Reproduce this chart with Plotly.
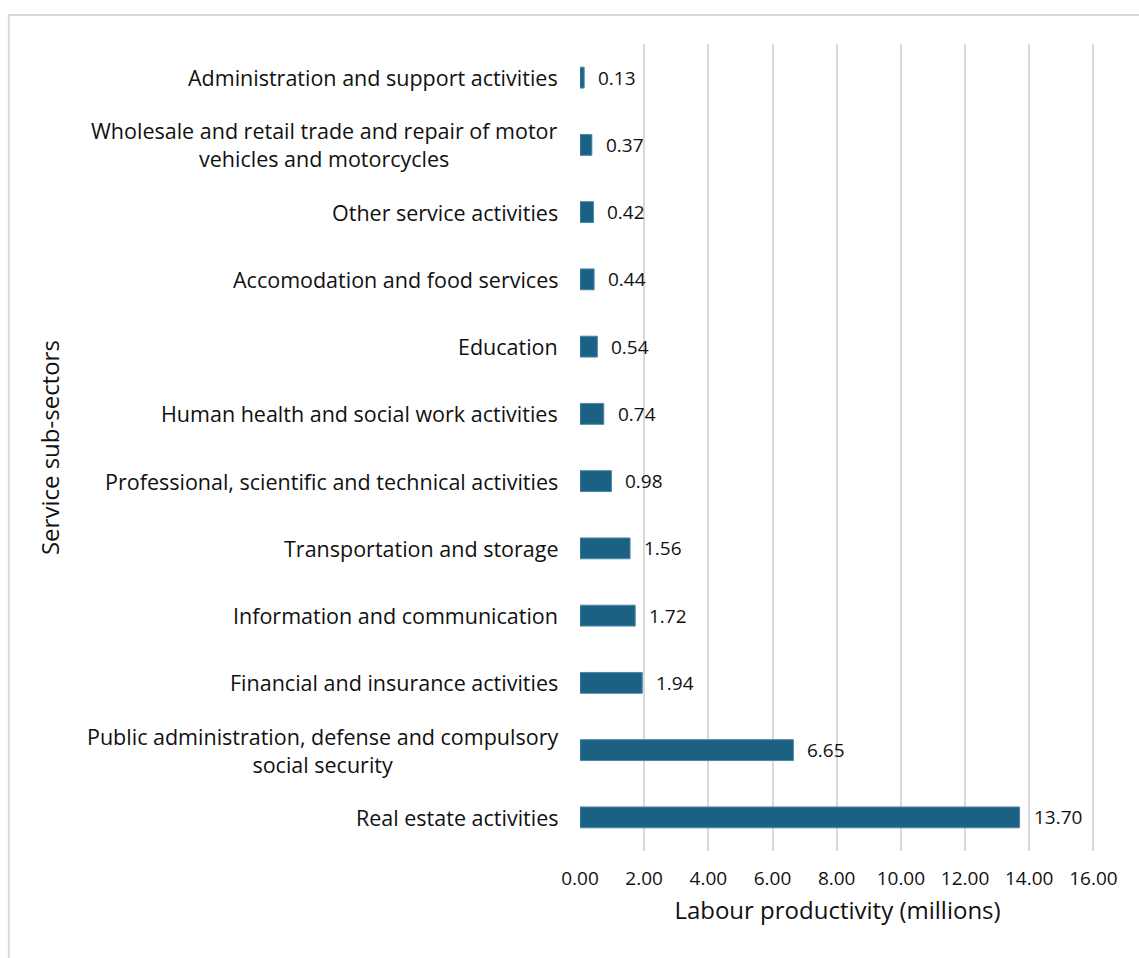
import plotly.graph_objects as go

# Service sub-sectors, top to bottom as displayed
sectors = [
    "Administration and support activities",
    "Wholesale and retail trade and repair of motor<br>vehicles and motorcycles",
    "Other service activities",
    "Accomodation and food services",
    "Education",
    "Human health and social work activities",
    "Professional, scientific and technical activities",
    "Transportation and storage",
    "Information and communication",
    "Financial and insurance activities",
    "Public administration, defense and compulsory<br>social security",
    "Real estate activities",
]
productivity = [0.13, 0.37, 0.42, 0.44, 0.54, 0.74, 0.98, 1.56, 1.72, 1.94, 6.65, 13.70]
x_ticks = [0, 2, 4, 6, 8, 10, 12, 14, 16]

FONT = "Open Sans, Liberation Sans, Arial, sans-serif"
BAR = "#1b6183"
TXT = "#111111"

fig = go.Figure(
    go.Bar(
        x=productivity,
        y=sectors,
        orientation="h",
        width=0.31,
        marker=dict(color=BAR, line=dict(color="#4d88a6", width=1)),
        hoverinfo="x+y",
    )
)

# Value labels placed just beyond each bar end
for s, v in zip(sectors, productivity):
    fig.add_annotation(
        x=v, y=s, text=f"{v:.2f}", showarrow=False,
        xanchor="left", xshift=12,
        font=dict(family=FONT, size=19, color=TXT),
    )

# Category labels, centred line by line, right edge next to the axis
for s in sectors:
    fig.add_annotation(
        x=0, y=s, text=s, showarrow=False,
        xanchor="right", xshift=-20, align="center",
        font=dict(family=FONT, size=21.5, color=TXT),
    )

# Vertical axis title
fig.add_annotation(
    xref="paper", yref="paper", x=-1.03, y=0.5,
    text="Service sub-sectors", textangle=-90, showarrow=False,
    xanchor="center", yanchor="middle",
    font=dict(family=FONT, size=24, color=TXT),
)

# Light outer frame of the chart
fig.add_shape(
    type="rect", xref="paper", yref="paper",
    x0=-1.109, x1=1.1, y0=-0.2, y1=1.036,
    line=dict(color="#d9d9d9", width=2), fillcolor="rgba(0,0,0,0)", layer="below",
)

fig.update_layout(
    width=1139, height=958,
    margin=dict(l=580, r=44, t=44, b=107),
    paper_bgcolor="white", plot_bgcolor="white",
    font=dict(family=FONT, size=19, color=TXT),
    showlegend=False,
)
fig.update_xaxes(
    range=[0, 16.05], tickvals=x_ticks, ticktext=[f"{t:.2f}" for t in x_ticks],
    showgrid=True, gridcolor="#d9d9d9", gridwidth=2,
    zeroline=False, showline=False, ticks="", ticklabelstandoff=14,
    title=dict(text="Labour productivity (millions)", standoff=12,
               font=dict(family=FONT, size=24)),
    tickfont=dict(family=FONT, size=19),
)
fig.update_yaxes(
    categoryorder="array", categoryarray=sectors[::-1],
    showgrid=False, zeroline=False, showline=False, ticks="",
    showticklabels=False,
)

fig.write_html("out.html")
